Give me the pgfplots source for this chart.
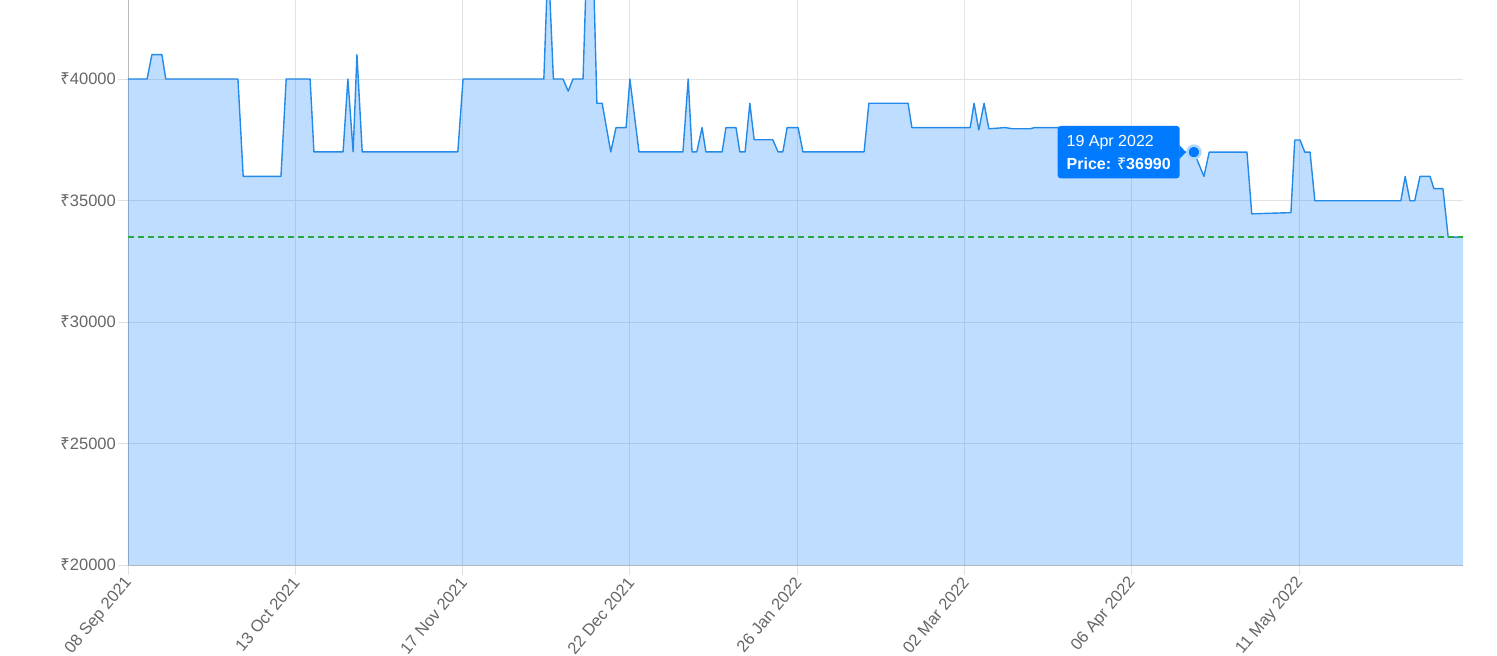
\documentclass[border=0pt]{standalone}
\usepackage{pgfplots}
\pgfplotsset{compat=1.18}
\usepackage{pgfplotstable}
\usepackage{fontspec}
\setmainfont{Liberation Sans}
\newfontfamily\rupeefont{Noto Sans}
\newcommand{\rs}{{\rupeefont ₹}}
\definecolor{lineblue}{RGB}{35,138,232}
\definecolor{tipblue}{RGB}{0,123,255}
\definecolor{fillblue}{RGB}{0,123,255}
\definecolor{dashgreen}{RGB}{40,167,69}
\definecolor{ticktext}{RGB}{102,102,102}

\pgfplotstableread{
x y
0 40000
4.0 40000
5.0 41000
7.1 41000
7.9 40000
23.0 40000
24.1 35990
32.0 35990
33.1 40000
38.1 40000
38.9 37000
45.0 37000
46.0 40000
47.1 37000
47.9 41000
49.0 37000
69.0 37000
70.1 40000
87.0 40000
87.9 45000
89.0 40000
91.0 40000
92.1 39500
93.1 40000
95.2 40000
96.0 45000
97.3 45000
98.1 39000
99.2 39000
101.0 37000
102.1 38000
104.2 38000
105.0 40000
106.9 37000
116.1 37000
117.2 40000
118.0 37000
119.0 37000
120.1 38000
120.9 37000
124.3 37000
125.1 38000
127.2 38000
128.0 37000
129.1 37000
130.1 39000
131.0 37500
134.9 37500
136.0 37000
137.0 37000
137.9 38000
140.2 38000
141.2 37000
154.0 37000
155.0 39000
163.2 39000
164.0 38000
176.2 38000
177.0 39000
178.0 37900
179.1 39000
180.1 37950
183.5 38000
185.1 37950
188.7 37950
189.7 38000
213.8 38000
214.9 36990
223.0 36990
225.1 35990
226.2 36990
234.1 36990
235.1 34450
243.3 34500
244.1 37490
245.2 37490
246.2 36990
247.3 36990
248.3 34990
266.3 34990
267.2 35990
268.2 34990
269.2 34990
270.3 35990
272.4 35990
273.2 35490
275.1 35490
276.2 33490
279.3 33490
}\pricedata

\begin{document}
\fontsize{16.5}{20}\selectfont
\begin{tikzpicture}
\begin{axis}[
  scale only axis,
  width=1335pt, height=565pt,
  xmin=0, xmax=279.3,
  ymin=20000, ymax=43250,
  axis x line*=bottom, axis y line*=left,
  axis line style={black!28, -},
  xtick={0,35,70,105,140,175,210,245},
  xticklabels={08 Sep 2021,13 Oct 2021,17 Nov 2021,22 Dec 2021,26 Jan 2022,02 Mar 2022,06 Apr 2022,11 May 2022},
  ytick={20000,25000,30000,35000,40000},
  yticklabels={\rs20000,\rs25000,\rs30000,\rs35000,\rs40000},
  tick align=outside,
  major tick length=10pt,
  tick style={black!12, line width=0.8pt},
  grid=major,
  grid style={black!11, line width=0.8pt},
  ticklabel style={text=ticktext, font=\fontsize{16.5}{20}\selectfont},
  xticklabel style={rotate=50, anchor=east, inner sep=1pt, yshift=-4pt, xshift=-2pt},
  yticklabel style={anchor=east, inner sep=2pt},
]
\addplot[draw=none, fill=fillblue, fill opacity=0.25] table[x=x,y=y]{\pricedata} \closedcycle;
\addplot[draw=lineblue, line width=1.4pt, line join=round] table[x=x,y=y]{\pricedata};
\addplot[draw=dashgreen, line width=1.5pt, dash pattern=on 6pt off 4pt, opacity=1] coordinates {(0,33490) (279.3,33490)};
\addplot[only marks, mark=*, mark size=6.5pt, mark options={fill=tipblue, draw=tipblue!30, line width=2.5pt}] coordinates {(223,36990)};
\fill[tipblue] ([xshift=-14.5pt,yshift=7pt]axis cs:223,36990) -- ([xshift=-8pt]axis cs:223,36990) -- ([xshift=-14.5pt,yshift=-7pt]axis cs:223,36990) -- cycle;
\node[fill=tipblue, text=white, rounded corners=3pt, align=left, anchor=east,
      inner xsep=9pt, inner ysep=9pt, font=\fontsize{16}{23}\selectfont]
  at ([xshift=-14pt]axis cs:223,36990) {19 Apr 2022\\\textbf{Price: \rs36990}};
\end{axis}
\pgfresetboundingbox
\path ([shift={(-128pt,-91pt)}]current axis.south west) rectangle ([shift={(34pt,0pt)}]current axis.north east);
\end{tikzpicture}
\end{document}
